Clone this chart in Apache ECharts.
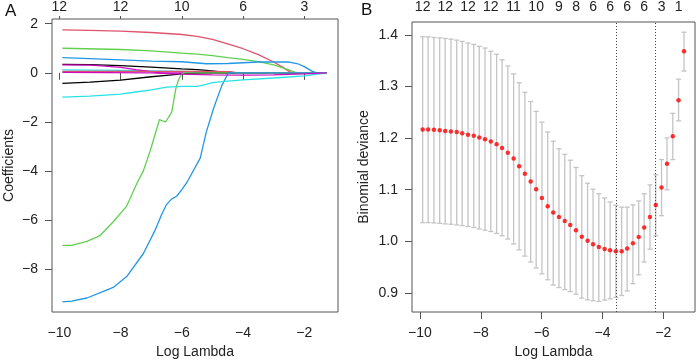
<!DOCTYPE html>
<html>
<head>
<meta charset="utf-8">
<script src="https://cdn.jsdelivr.net/npm/echarts@6/dist/echarts.min.js"></script>
<style>
  html, body { margin: 0; padding: 0; background: #fff; }
  #chart { width: 696px; height: 364px; }
</style>
</head>
<body>
<div id="chart"></div>
<script>
// ---- panel A: coefficient paths, [log lambda, coefficient]
const pathBlack1 = [[-9.9, 0.34], [-9, 0.33], [-8, 0.29], [-7, 0.23], [-6, 0.16], [-5.5, 0.13], [-5, 0.08], [-4.5, 0], [-1.27, 0]];
const pathRed1 = [[-9.9, 1.75], [-9, 1.73], [-8, 1.7], [-7, 1.64], [-6, 1.56], [-5.5, 1.48], [-5, 1.36], [-4.5, 1.18], [-4, 0.98], [-3.5, 0.74], [-3, 0.44], [-2.7, 0.22], [-2.42, 0], [-1.27, 0]];
const pathGreen1 = [[-9.9, 1.0], [-8, 0.95], [-7, 0.89], [-6, 0.8], [-5.5, 0.76], [-5, 0.7], [-4.5, 0.62], [-4, 0.55], [-3.5, 0.46], [-3, 0.32], [-2.6, 0.16], [-2.25, 0], [-1.27, 0]];
const pathBlue1 = [[-9.9, 0.62], [-9, 0.58], [-8, 0.53], [-7, 0.48], [-6, 0.45], [-5.2, 0.37], [-4.5, 0.38], [-4, 0.41], [-3.5, 0.44], [-2.5, 0.44], [-2.2, 0.36], [-2.0, 0.25], [-1.75, 0.07], [-1.6, 0], [-1.27, 0]];
const pathCyan1 = [[-9.9, 0.12], [-8, 0.1], [-7, 0.08], [-6, 0.06], [-5, 0.03], [-4, 0.01], [-3.5, 0], [-1.27, 0]];
const pathMagenta1 = [[-9.9, 0.32], [-9, 0.31], [-8.5, 0.27], [-8, 0.22], [-7.5, 0.13], [-7, 0.05], [-6.7, 0], [-1.27, 0]];
const pathBlack2 = [[-9.9, -0.43], [-9, -0.38], [-8, -0.3], [-7, -0.16], [-6.5, -0.1], [-6, -0.04], [-5.5, -0.01], [-5.3, 0], [-1.27, 0]];
const pathRed2 = [[-9.9, 0.06], [-7, 0.06], [-5, 0.06], [-4.4, 0.05], [-4.2, 0], [-1.27, 0]];
const pathGreen2 = [[-9.9, -7.02], [-9.6, -7.02], [-9.1, -6.86], [-8.67, -6.62], [-8.24, -6.06], [-7.8, -5.42], [-7.47, -4.5], [-7.26, -4.0], [-7.04, -3.2], [-6.73, -1.9], [-6.53, -2.0], [-6.33, -1.6], [-6.2, -0.67], [-6.11, -0.29], [-6.0, -0.03], [-5.9, 0], [-1.27, 0]];
const pathBlue2 = [[-9.9, -9.32], [-9.6, -9.29], [-9.1, -9.16], [-8.56, -8.89], [-8.24, -8.73], [-7.8, -8.29], [-7.26, -7.36], [-6.88, -6.42], [-6.66, -5.76], [-6.5, -5.36], [-6.33, -5.13], [-6.17, -5.02], [-6.0, -4.75], [-5.84, -4.47], [-5.4, -3.47], [-5.2, -2.4], [-4.97, -1.47], [-4.7, -0.53], [-4.48, 0], [-1.27, 0]];
const pathCyan2 = [[-9.9, -0.99], [-9, -0.95], [-8, -0.87], [-7.5, -0.78], [-7, -0.69], [-6.5, -0.58], [-6, -0.55], [-5.5, -0.55], [-5.2, -0.47], [-5, -0.4], [-4.5, -0.34], [-4, -0.29], [-3, -0.21], [-2, -0.12], [-1.5, -0.04], [-1.27, 0]];
const pathMagenta2 = [[-9.9, 0.02], [-7, 0], [-6, -0.05], [-5, -0.08], [-4, -0.09], [-3, -0.08], [-2.5, -0.06], [-2, -0.04], [-1.27, 0]];

const topTicksA = [-10, -8, -6, -4, -2];
const topLabelsA = ["12", "12", "10", "6", "3"];

// ---- panel B: cross-validation curve
const logLambda = [-9.91, -9.73, -9.54, -9.35, -9.17, -8.98, -8.79, -8.61, -8.42, -8.23, -8.05, -7.86, -7.67, -7.48, -7.30, -7.11, -6.92, -6.74, -6.55, -6.36, -6.18, -5.99, -5.80, -5.62, -5.43, -5.24, -5.06, -4.87, -4.68, -4.49, -4.31, -4.12, -3.93, -3.75, -3.56, -3.37, -3.19, -3.00, -2.81, -2.63, -2.44, -2.25, -2.06, -1.88, -1.69, -1.50, -1.32];
const cvMean = [1.2169, 1.2169, 1.2162, 1.2150, 1.2137, 1.2130, 1.2118, 1.2092, 1.2067, 1.2048, 1.2010, 1.1978, 1.1933, 1.1882, 1.1806, 1.1717, 1.1603, 1.1456, 1.1310, 1.1157, 1.1011, 1.0839, 1.0680, 1.0559, 1.0470, 1.0394, 1.0317, 1.0216, 1.0088, 1.0012, 0.9942, 0.9891, 0.9853, 0.9828, 0.9805, 0.9808, 0.9859, 0.9961, 1.0082, 1.0267, 1.0470, 1.0706, 1.1043, 1.1501, 1.2035, 1.2735, 1.3683];
const cvUpper = [1.3963, 1.3963, 1.3950, 1.3943, 1.3931, 1.3918, 1.3899, 1.3874, 1.3842, 1.3816, 1.3778, 1.3746, 1.3683, 1.3625, 1.3517, 1.3396, 1.3244, 1.3072, 1.2887, 1.2709, 1.2518, 1.2309, 1.2118, 1.1940, 1.1793, 1.1685, 1.1571, 1.1431, 1.1272, 1.1125, 1.1011, 1.0922, 1.0839, 1.0763, 1.0699, 1.0661, 1.0661, 1.0706, 1.0782, 1.0922, 1.1093, 1.1291, 1.1583, 1.2003, 1.2480, 1.3142, 1.4052];
const cvLower = [1.0362, 1.0362, 1.0356, 1.0349, 1.0337, 1.0330, 1.0317, 1.0305, 1.0286, 1.0267, 1.0241, 1.0216, 1.0190, 1.0152, 1.0108, 1.0044, 0.9949, 0.9834, 0.9713, 0.9599, 0.9484, 0.9370, 0.9255, 0.9153, 0.9103, 0.9064, 0.9026, 0.8975, 0.8899, 0.8867, 0.8848, 0.8835, 0.8861, 0.8886, 0.8912, 0.8950, 0.9039, 0.9179, 0.9351, 0.9599, 0.9847, 1.0108, 1.0496, 1.0998, 1.1583, 1.2334, 1.3301];
const lambdaMin = -3.56;
const lambda1se = -2.25;
const topTicksB = [-9.91, -9.17, -8.42, -7.67, -6.92, -6.18, -5.43, -4.87, -4.31, -3.75, -3.19, -2.63, -2.06, -1.50];
const topLabelsB = ["12", "12", "12", "12", "11", "10", "9", "8", "6", "6", "6", "6", "3", "1"];

const FONT = '"Liberation Sans", Arial, Helvetica, sans-serif';
const TXT = "#222";
const BOX = "#555";
const minus = (v) => String(v).replace("-", "\u2212");
const pick = (ticks, labels) => (v) => {
  let best = 0;
  ticks.forEach((t, i) => { if (Math.abs(t - v) < Math.abs(ticks[best] - v)) best = i; });
  return labels[best];
};

const paths = [
  [pathBlack1, "#000000"], [pathRed1, "#DF536B"], [pathGreen1, "#61D04F"],
  [pathBlue1, "#2297E6"], [pathCyan1, "#28E2E5"], [pathMagenta1, "#CD0BBC"],
  [pathBlack2, "#000000"], [pathRed2, "#DF536B"], [pathGreen2, "#61D04F"],
  [pathBlue2, "#2297E6"], [pathCyan2, "#28E2E5"], [pathMagenta2, "#CD0BBC"],
];

const label = { color: TXT, fontFamily: FONT, fontSize: 14 };

const bottomAxis = (grid, min, max) => ({
  type: "value", gridIndex: grid, position: "bottom", min, max,
  name: "Log Lambda", nameLocation: "middle", nameGap: 33,
  nameTextStyle: label,
  axisLine: { show: false },
  axisTick: { show: true, length: 7, customValues: [-10, -8, -6, -4, -2], lineStyle: { color: BOX } },
  axisLabel: { ...label, margin: 14, customValues: [-10, -8, -6, -4, -2], formatter: minus },
  splitLine: { show: false },
});

const chart = echarts.init(document.getElementById("chart"));
chart.setOption({
  animation: false,
  backgroundColor: "#fff",
  textStyle: { fontFamily: FONT },
  grid: [
    { left: 52, right: 358, top: 16, bottom: 51, show: true, borderColor: BOX, borderWidth: 1 },
    { left: 412, right: 1, top: 20, bottom: 50, show: true, borderColor: BOX, borderWidth: 1 },
  ],
  graphic: [
    { type: "text", left: 5, top: 3, style: { text: "A", fontSize: 17, fontFamily: FONT, fill: "#111" } },
    { type: "text", left: 361, top: 2, style: { text: "B", fontSize: 17, fontFamily: FONT, fill: "#111" } },
  ],
  xAxis: [
    bottomAxis(0, -10.24, -0.9),
    {
      type: "value", gridIndex: 0, position: "top", min: -10.24, max: -0.9,
      axisLine: { show: false },
      axisTick: { show: true, length: 3, customValues: topTicksA, lineStyle: { color: BOX } },
      axisLabel: { ...label, margin: 5, customValues: topTicksA, formatter: pick(topTicksA, topLabelsA) },
      splitLine: { show: false },
    },
    bottomAxis(1, -10.26, -0.96),
    {
      type: "value", gridIndex: 1, position: "top", min: -10.26, max: -0.96,
      axisLine: { show: false },
      axisTick: { show: false },
      axisLabel: { ...label, margin: 8, customValues: topTicksB, formatter: pick(topTicksB, topLabelsB) },
      splitLine: { show: false },
    },
  ],
  yAxis: [
    {
      type: "value", gridIndex: 0, min: -9.73, max: 2.19,
      name: "Coefficients", nameLocation: "middle", nameGap: 36, nameTextStyle: label,
      axisLine: { show: false },
      axisTick: { show: true, length: 7, customValues: [-8, -6, -4, -2, 0, 2], lineStyle: { color: BOX } },
      axisLabel: { ...label, margin: 14, customValues: [-8, -6, -4, -2, 0, 2], formatter: minus },
      splitLine: { show: false },
    },
    {
      type: "value", gridIndex: 1, min: 0.863, max: 1.425,
      name: "Binomial deviance", nameLocation: "middle", nameGap: 41, nameTextStyle: label,
      axisLine: { show: false },
      axisTick: { show: true, length: 7, customValues: [0.9, 1.0, 1.1, 1.2, 1.3, 1.4], lineStyle: { color: BOX } },
      axisLabel: { ...label, margin: 14, customValues: [0.9, 1.0, 1.1, 1.2, 1.3, 1.4], formatter: (v) => v.toFixed(1) },
      splitLine: { show: false },
    },
  ],
  series: [
    ...paths.map(([data, color]) => ({
      type: "line", xAxisIndex: 0, yAxisIndex: 0, data,
      symbol: "none", lineStyle: { color, width: 1.3 }, silent: true,
    })),
    {
      type: "custom", xAxisIndex: 2, yAxisIndex: 1,
      data: logLambda.map((x, i) => [x, cvLower[i], cvUpper[i]]),
      encode: { x: 0, y: [1, 2] },
      renderItem(params, api) {
        const x = api.value(0);
        const lo = api.coord([x, api.value(1)]);
        const hi = api.coord([x, api.value(2)]);
        const w = 2.5;
        const style = { stroke: "#c4c4c4", lineWidth: 1.3 };
        return {
          type: "group",
          children: [
            { type: "line", shape: { x1: lo[0], y1: lo[1], x2: hi[0], y2: hi[1] }, style },
            { type: "line", shape: { x1: hi[0] - w, y1: hi[1], x2: hi[0] + w, y2: hi[1] }, style },
            { type: "line", shape: { x1: lo[0] - w, y1: lo[1], x2: lo[0] + w, y2: lo[1] }, style },
          ],
        };
      },
    },
    {
      type: "scatter", xAxisIndex: 2, yAxisIndex: 1,
      data: logLambda.map((x, i) => [x, cvMean[i]]),
      symbolSize: 4.5, itemStyle: { color: "#ff0000" },
      markLine: {
        silent: true, symbol: "none", label: { show: false },
        lineStyle: { color: "#444", type: [1, 2], width: 1 },
        data: [{ xAxis: lambdaMin }, { xAxis: lambda1se }],
      },
    },
  ],
});
</script>
</body>
</html>
